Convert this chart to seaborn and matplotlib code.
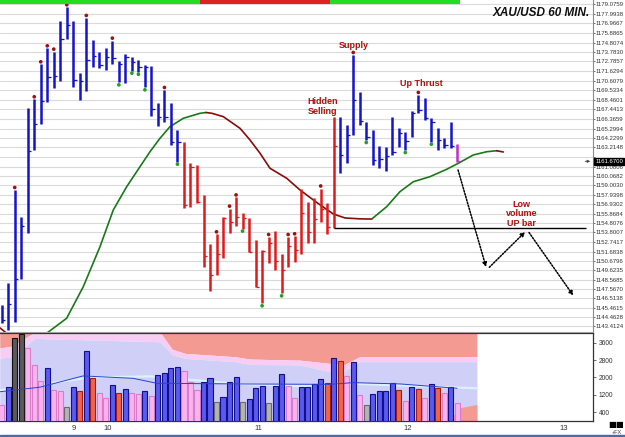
import matplotlib
matplotlib.use("Agg")
import numpy as np
import pandas as pd
import seaborn as sns
from matplotlib import pyplot as plt

# hourly bars (high / low / close)
highs = [1145.77, 1148.24, 1158.49, 1155.54, 1167.54, 1168.53, 1172.40, 1174.17, 1173.80, 1177.23,
         1178.71, 1177.23, 1171.41, 1177.53, 1175.09, 1173.80, 1174.24, 1175.02, 1172.77, 1173.54,
         1173.18, 1172.88, 1172.33, 1172.22, 1168.15, 1169.56, 1168.09, 1165.13, 1163.84, 1161.45,
         1161.26, 1157.94, 1152.52, 1153.59, 1155.54, 1156.43, 1157.67, 1155.92, 1155.36, 1153.00,
         1151.86, 1153.29, 1153.96, 1151.41, 1153.29, 1153.37, 1158.57, 1157.17, 1157.58, 1158.66,
         1157.02, 1166.54, 1166.54, 1165.69, 1173.43, 1169.37, 1165.99, 1165.13, 1163.36, 1163.29,
         1166.54, 1165.32, 1164.88, 1167.24, 1169.01, 1168.64, 1166.43, 1165.32, 1164.28, 1166.05,
         1163.55]
lows = [1143.75, 1143.00, 1143.92, 1148.61, 1153.77, 1162.92, 1165.80, 1168.20, 1169.75, 1170.56,
        1175.17, 1169.93, 1168.45, 1169.48, 1172.14, 1172.03, 1171.77, 1172.40, 1170.41, 1170.30,
        1171.70, 1171.58, 1169.86, 1166.68, 1165.58, 1166.05, 1163.42, 1161.63, 1156.47, 1156.65,
        1157.02, 1149.94, 1147.32, 1149.09, 1150.97, 1153.77, 1154.51, 1154.23, 1151.58, 1147.73,
        1145.96, 1150.45, 1149.64, 1147.06, 1149.97, 1150.53, 1151.41, 1152.60, 1152.66, 1154.99,
        1153.66, 1154.26, 1160.34, 1161.45, 1164.53, 1165.69, 1164.03, 1161.26, 1160.90, 1160.60,
        1162.37, 1163.29, 1162.92, 1164.39, 1166.98, 1166.24, 1163.84, 1162.92, 1163.11, 1163.11,
        1161.56]
closes = [1144.11, 1145.88, 1148.61, 1154.51, 1162.84, 1165.80, 1168.34, 1171.03, 1171.11, 1175.20,
          1176.75, 1170.67, 1170.59, 1172.88, 1173.32, 1172.33, 1173.24, 1173.10, 1172.44, 1173.24,
          1172.69, 1172.14, 1172.14, 1167.42, 1166.54, 1166.54, 1163.84, 1163.84, 1156.84, 1161.01,
          1157.20, 1151.23, 1149.09, 1151.38, 1155.36, 1154.95, 1155.51, 1155.40, 1151.67, 1147.79,
          1151.72, 1152.61, 1150.64, 1149.64, 1152.30, 1151.86, 1155.95, 1153.88, 1155.25, 1156.39,
          1154.43, 1163.36, 1162.37, 1164.58, 1168.40, 1166.13, 1164.36, 1161.81, 1161.93, 1162.26,
          1162.73, 1164.80, 1163.92, 1167.05, 1167.35, 1166.43, 1166.05, 1164.03, 1163.47, 1163.36,
          1161.67]
bar_kind = "b" * 28 + "r" * 24 + "b" * 18 + "m"
top_dots = [2, 5, 6, 7, 8, 10, 13, 17, 25, 33, 35, 36, 41, 44, 45, 49, 54, 64]
bottom_dots = [18, 20, 21, 22, 27, 37, 40, 43, 56, 62, 66]

volume = [730, 1540, 3810, 4010, 3350, 2580, 1850, 2420, 1420, 1370,
          650, 1540, 1370, 3220, 1990, 1270, 1040, 1640, 1300, 1450,
          1270, 1220, 1370, 1160, 2110, 2190, 2450, 2500, 2300, 1800,
          1420, 1780, 1960, 880, 1110, 1780, 2040, 850, 990, 1500,
          1600, 800, 1620, 2150, 1620, 1060, 1570, 1570, 1700, 1930,
          1760, 2910, 2770, 2070, 2730, 1190, 730, 1240, 1390, 1390,
          1730, 1420, 930, 1570, 1450, 1060, 1700, 1500, 1270, 1570,
          800]
vol_kind = ("pbkkpppbpp" "gbrbrppbrb" "ppbpbbbbpp" "pbbgbbbgbb" "bgbbppbbbb"
            "rbrpbpgbbb" "brpbrpbrpb" "p")

# moving average on the price panel
ma_x = [-0.26, 1.27, 4.35, 6.96, 9.98, 12.53, 15.10, 17.14, 19.20, 21.24, 22.78, 24.32, 25.85,
        27.90, 30.46, 31.38, 32.30, 34.04, 36.61, 38.14, 39.68, 41.21, 43.78, 45.82, 48.39,
        50.94, 52.73, 55.04, 56.84, 59.14, 61.18, 63.23, 65.79, 68.36, 70.14, 72.44, 74.50,
        76.04, 77.05]
ma_price = [1143.23, 1142.34, 1142.12, 1142.67, 1144.30, 1147.79, 1152.22, 1156.28, 1158.86,
            1161.07, 1162.73, 1164.22, 1165.50, 1166.43, 1166.98, 1167.07, 1166.98, 1166.61,
            1165.32, 1164.03, 1162.56, 1160.90, 1159.79, 1158.50, 1157.11, 1155.84, 1155.40,
            1155.30, 1155.28, 1156.65, 1158.31, 1159.41, 1159.97, 1160.79, 1161.45, 1162.37,
            1162.73, 1162.84, 1162.70]

# volume panel background bands
band_x = [-0.3, 1.6, 5.1, 24.3, 26.2, 28.2, 35.8, 38.1, 45.8, 50.4, 52.7, 55.0, 73.0]
band_top = [3360, 3450, 4100, 4100, 3300, 3110, 2960, 2850, 2800, 2650, 2600, 2960, 2960]
band_mid = [2890, 2950, 3800, 3650, 3050, 2880, 2730, 2600, 2580, 2270, 2300, 2730, 2730]
light_x = [-0.3, 13.6, 22.8, 36.6, 45.8, 55.0, 73.0]
light_val = [1400, 2000, 2050, 1700, 1600, 1700, 1500]
low_band_x = [68.6, 70.4, 73.0]
low_band_val = [0, 600, 750]
vol_ma_x = [-0.26, 5.88, 12.49, 20.17, 23.85, 36.61, 50.43, 53.96, 61.18, 69.94]
vol_ma = [1340, 1550, 2070, 1960, 1730, 1700, 1680, 1760, 1700, 1500]

trend_breaks = [-0.26, 30.5, 50.4, 70.4]
trend = ["up", "down", "up"]

price_ticks = [1179.0759, 1177.9938, 1176.9667, 1175.8865, 1174.8074, 1173.7830, 1172.7857,
               1171.6294, 1170.6079, 1169.5334, 1168.4601, 1167.4413, 1166.3659, 1165.2994,
               1164.2299, 1163.2148, 1162.1477, 1161.0806, 1160.0682, 1159.0030, 1157.9398,
               1156.9302, 1155.8684, 1154.8076, 1153.8007, 1152.7417, 1151.6838, 1150.6796,
               1149.6235, 1148.5685, 1147.5670, 1146.5138, 1145.4615, 1144.4628, 1143.4124]
hidden_tick = 1162.1477  # sits under the last-price box
vol_ticks = [400, 1200, 2000, 2800, 3600]
day_labels = ["9", "10", "11", "12", "13"]
day_pos = [11.1, 16.3, 39.4, 62.4, 86.4]
last_price = 1161.67

# projected path (dotted arrows)
path_x = [70.1, 74.4, 74.9, 80.4, 81.0, 87.8]
path_y = [1160.71, 1149.98, 1149.94, 1153.85, 1153.79, 1146.82]

sns.set_style("white")
plt.rcParams["font.family"] = ["Liberation Sans", "DejaVu Sans"]
SMALL = 4.3

BAR_COL = {"b": "#1414cc", "r": "#e01a1a", "m": "#c030c0"}
VOL_FACE = {"b": "#5a5af0", "p": "#f9b4ee", "r": "#f0644f", "g": "#b4b4b4", "k": "#5a5a5a"}
VOL_EDGE = {"b": "#10108a", "p": "#d97ccb", "r": "#a01c10", "g": "#6a6a6a", "k": "#111111"}
TEXT_RED = "#b01010"
XMIN, XMAX = -0.26, 90.83

fig = plt.figure(figsize=(6.25, 4.37), dpi=100)
ax = fig.add_axes([0, 1 - 332 / 437, 593 / 625, 332 / 437])
axv = fig.add_axes([0, 1 - 420.7 / 437, 593 / 625, 87.7 / 437])

# ---- price panel
idx = np.arange(len(highs))
for v in price_ticks:
    ax.axhline(v, color="#dadada", lw=0.8, zorder=0)
ax.vlines(idx, lows, highs, colors=[BAR_COL[k] for k in bar_kind], lw=1.8, zorder=3)
ax.hlines(closes, idx, idx + 0.5, colors=[BAR_COL[k] for k in bar_kind], lw=0.9, zorder=3)

dots = pd.DataFrame({"x": top_dots + bottom_dots,
                     "y": [highs[i] + 0.28 for i in top_dots] + [lows[i] - 0.28 for i in bottom_dots],
                     "kind": ["top"] * len(top_dots) + ["bottom"] * len(bottom_dots)})
sns.scatterplot(data=dots, x="x", y="y", hue="kind", palette={"top": "#a01010", "bottom": "#22a022"},
                s=7, linewidth=0, legend=False, ax=ax, zorder=4)

# moving average, green while rising, red while falling
ma = pd.DataFrame({"x": ma_x, "y": ma_price})
rising = np.diff(ma["y"]) >= 0
start = 0
for i in range(1, len(rising) + 1):
    if i == len(rising) or rising[i] != rising[start]:
        seg = ma.iloc[start:i + 1]
        sns.lineplot(data=seg, x="x", y="y", sort=False, ax=ax, lw=1.2, zorder=2,
                     color="#187a18" if rising[start] else "#8c0a0a")
        start = i

for x0, x1, t in zip(trend_breaks[:-1], trend_breaks[1:], trend):
    ax.fill_between([x0, x1], 0.988, 1.0, transform=ax.get_xaxis_transform(),
                    color="#22dd22" if t == "up" else "#dd2222", lw=0, zorder=5)

ax.hlines(lows[51], 51, 89.8, color="black", lw=1.0, zorder=3)
for j in range(0, len(path_x), 2):
    ax.annotate("", xy=(path_x[j + 1], path_y[j + 1]), xytext=(path_x[j], path_y[j]),
                arrowprops=dict(arrowstyle="-|>", ls=(0, (1, 1)), lw=1.1, color="black",
                                mutation_scale=6, shrinkA=0, shrinkB=0), zorder=6)

txt = dict(color=TEXT_RED, fontsize=6.5, fontweight="bold", ha="center", va="center", linespacing=1.05)
ax.text(54.04, 1174.46, "Supply", **txt)
ax.text(64.52, 1170.30, "Up Thrust", **txt)
ax.text(49.35, 1167.73, "Hidden\nSelling", **txt)
ax.text(79.88, 1155.87, "Low\nvolume\nUP bar", **txt)

ax.set_xlim(XMIN, XMAX)
ax.set_ylim(1142.78, 1179.52)
ax.set_xticks([])
ax.yaxis.tick_right()
ax.set_yticks(price_ticks)
ax.set_yticklabels(["" if v == hidden_tick else f"{v:.4f}" for v in price_ticks])
ax.tick_params(axis="y", labelsize=SMALL, length=1.5, pad=0.4, colors="#333333", width=0.5)
ax.set_xlabel("")
ax.set_ylabel("")
for s in ["top", "left"]:
    ax.spines[s].set_visible(False)
ax.spines["right"].set_color("#8a8a8a")
ax.spines["bottom"].set_color("#b0b0b0")

ax.annotate(f"{last_price:.4f}", xy=(1.0, last_price), xycoords=("axes fraction", "data"),
            xytext=(1.5, 0), textcoords="offset points", ha="left", va="center",
            fontsize=SMALL, color="white", annotation_clip=False,
            bbox=dict(boxstyle="square,pad=0.15", fc="black", ec="black"))
ax.annotate("", xy=(1.0, last_price), xycoords=("axes fraction", "data"),
            xytext=(0.982, last_price), arrowprops=dict(arrowstyle="-|>", lw=0.6, color="#444444",
                                                        mutation_scale=4), annotation_clip=False)

# ---- volume panel
axv.fill_between(band_x, band_top, 4100, color="#f39a92", lw=0)
axv.fill_between(band_x, band_mid, band_top, color="#f8cdf3", lw=0)
axv.fill_between(band_x, 0, band_mid, color="#cfcff8", lw=0)
axv.fill_between(low_band_x, 0, low_band_val, color="#f39a92", lw=0)
sns.lineplot(x=light_x, y=light_val, ax=axv, color="#d9f2ff", lw=1.6)
axv.bar(idx, volume, width=0.78, color=[VOL_FACE[k] for k in vol_kind],
        edgecolor=[VOL_EDGE[k] for k in vol_kind], lw=0.8, zorder=3)
sns.lineplot(x=vol_ma_x, y=vol_ma, ax=axv, color="#3040c8", lw=0.7, zorder=4)

axv.set_xlim(XMIN, XMAX)
axv.set_ylim(0, 4055)
axv.yaxis.tick_right()
axv.set_yticks(vol_ticks)
axv.set_yticklabels([str(v) for v in vol_ticks])
axv.set_xticks(day_pos)
axv.set_xticklabels(day_labels)
axv.tick_params(axis="y", labelsize=4.8, length=2, pad=2, colors="#333333", width=0.5)
axv.tick_params(axis="x", labelsize=5.5, length=2, pad=1, colors="#333333", width=0.5)
axv.spines["left"].set_visible(False)
for s in ["top", "right", "bottom"]:
    axv.spines[s].set_color("#333333")
    axv.spines[s].set_linewidth(0.9)

fig.text(590 / 625, 1 - 13 / 437, "XAU/USD 60 MIN.", ha="right", va="center",
         fontsize=8.5, fontweight="bold", fontstyle="italic", color="#111111")
fig.text(608 / 625, 1 - 425 / 437, "■■", ha="left", va="center", fontsize=6, color="black",
         family=["DejaVu Sans"])
fig.text(612 / 625, 1 - 433 / 437, "+FX", ha="left", va="center", fontsize=4, color="#333333")
fig.patches.append(plt.Rectangle((0, 0), 1, 2.5 / 437, transform=fig.transFigure,
                                 color="#4a6aa0", zorder=10))

fig.savefig("out.png", dpi=100)
plt.close(fig)
